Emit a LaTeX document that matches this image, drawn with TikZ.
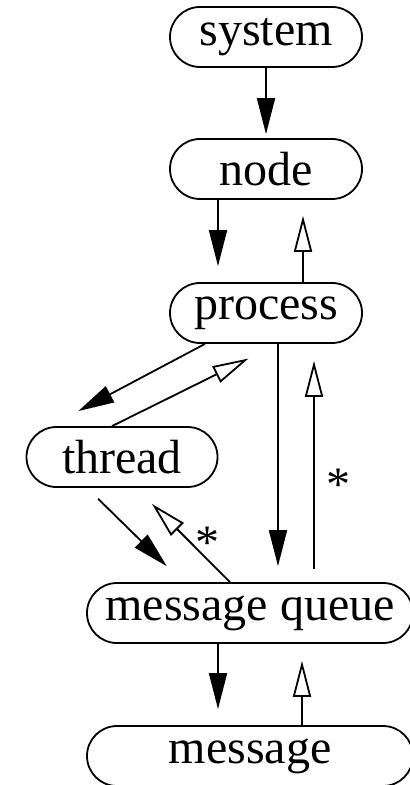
\documentclass[tikz,border=0pt]{standalone}
\usepackage{fontspec}
\setmainfont{Liberation Serif}
\usetikzlibrary{arrows.meta,calc}

\begin{document}
\begin{tikzpicture}[x=0.5pt,y=-0.5pt,line width=0.9pt,
    box/.style={draw,rounded corners=15pt,minimum height=30pt,inner sep=0pt,
      font=\fontsize{24}{28}\selectfont},
    mult/.style={font=\fontsize{24}{28}\selectfont,inner sep=0pt},
    fwd/.style={-{Triangle[length=18pt,width=9pt]}},
    back/.style={-{Triangle[open,length=18pt,width=9pt]}}]
  \useasboundingbox (0,0) rectangle (410,785);

  \node[box,minimum width=96pt] (system) at (266,37) {system};
  \node[box,minimum width=96pt] (nd) at (266,169) {node};
  \node[box,minimum width=96pt] (proc) at (266,313) {process};
  \node[box,minimum width=95.5pt] (thr) at (122,457) {thread};
  \node[box,minimum width=163pt] (mq) at (250,613) {message queue};
  \node[box,minimum width=163pt] (msg) at (250,756) {message};

  \draw[fwd,shorten >=2pt] (system) -- (nd);
  \draw[fwd,shorten >=8pt] ($(nd.south)+(-48,0)$) -- ($(proc.north)+(-48,0)$);
  \draw[back,shorten >=8pt] ($(proc.north)+(37,0)$) -- ($(nd.south)+(37,0)$);

  % process <-> thread
  \draw[fwd,shorten >=16pt] ($(proc.south)+(-61,0)$) -- ($(thr.north)+(-72,0)$);
  \draw[back,shorten >=16.5pt] ($(thr.north)+(-10,0)$) -- ($(proc.south)+(12,0)$);

  % process <-> message queue
  \draw[fwd,shorten >=8pt] ($(proc.south)+(12,0)$) -- ($(mq.north)+(28,0)$);
  \draw[back,shorten <=6.5pt,shorten >=8.5pt] ($(mq.north)+(64,0)$) --
    node[mult,pos=.44,right=6pt,yshift=-3.5pt] {*} ($(proc.south)+(48,0)$);

  % thread <-> message queue
  \draw[fwd,shorten <=7.8pt,shorten >=11.3pt] ($(thr.south)+(-35,0)$) -- ($(mq.north)+(-67,0)$);
  \draw[back,shorten >=11.3pt] ($(mq.north)+(-20,0)$) --
    node[mult,pos=.37,above right=4pt,xshift=-4.5pt,yshift=-10pt] {*} ($(thr.south)+(14,0)$);

  % message queue <-> message
  \draw[fwd,shorten >=8pt] ($(mq.south)+(-32,0)$) -- ($(msg.north)+(-32,0)$);
  \draw[back,shorten >=8.5pt] ($(msg.north)+(52,0)$) -- ($(mq.south)+(52,0)$);
\end{tikzpicture}
\end{document}
